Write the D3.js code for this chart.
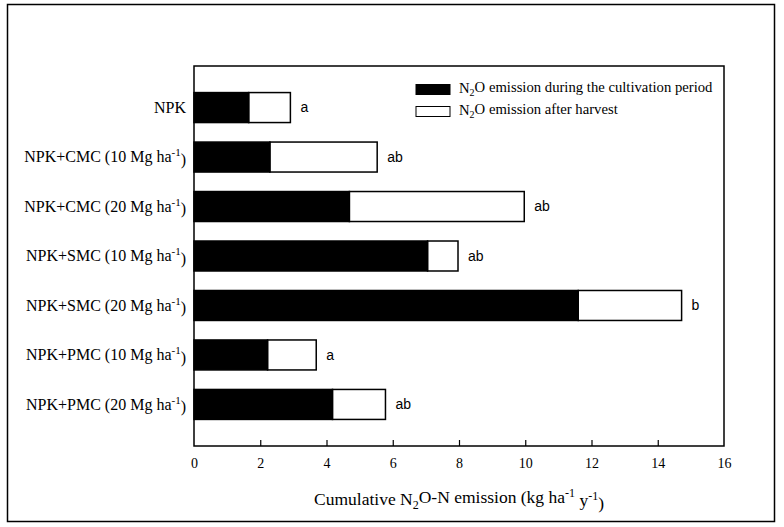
<!DOCTYPE html>
<html><head><meta charset="utf-8">
<script src="https://cdn.jsdelivr.net/npm/d3@7"></script>
<style>body{margin:0;background:#fff}svg{display:block}</style>
</head><body>
<svg id="c" width="784" height="527"></svg>
<script>
const categories = ["NPK","NPK+CMC (10 Mg ha","NPK+CMC (20 Mg ha","NPK+SMC (10 Mg ha","NPK+SMC (20 Mg ha","NPK+PMC (10 Mg ha","NPK+PMC (20 Mg ha"];
const cultivation = [1.65, 2.29, 4.69, 7.05, 11.60, 2.22, 4.18];
const total = [2.91, 5.53, 9.97, 7.97, 14.72, 3.69, 5.78];
const letters = ["a","ab","ab","ab","b","a","ab"];
const xTicks = [0,2,4,6,8,10,12,14,16];

const svg = d3.select("#c");
const serif = "'Liberation Serif','Times New Roman',serif";
const sans = "'Liberation Sans',Arial,sans-serif";
const L=194, R=724, T=66, B=446;
const x = d3.scaleLinear().domain([0,16]).range([L,R]);
const y = d3.scaleBand().domain(categories).range([T,B]).paddingInner(0.394).paddingOuter(0.537);

// outer frame
svg.append("rect").attr("x",7.5).attr("y",4.5).attr("width",767).attr("height",517)
  .attr("fill","none").attr("stroke","#000").attr("stroke-width",1.5);

// bars
const g = svg.append("g");
categories.forEach((c,i)=>{
  g.append("rect").attr("x",x(cultivation[i])).attr("y",y(c)).attr("width",x(total[i])-x(cultivation[i]))
   .attr("height",y.bandwidth()).attr("fill","#fff").attr("stroke","#000").attr("stroke-width",1.5);
  g.append("rect").attr("x",x(0)).attr("y",y(c)).attr("width",x(cultivation[i])-x(0))
   .attr("height",y.bandwidth()).attr("fill","#000").attr("stroke","#000").attr("stroke-width",1.5);
  g.append("text").attr("x",x(total[i])+10).attr("y",y(c)+y.bandwidth()/2).attr("dy","0.35em")
   .attr("font-family",sans).attr("font-size",14).text(letters[i]);
  const t = svg.append("text").attr("x",186).attr("y",y(c)+y.bandwidth()/2).attr("dy","0.32em")
   .attr("text-anchor","end").attr("font-family",serif).attr("font-size",16);
  t.append("tspan").text(c);
  if(i>0){
    t.append("tspan").attr("font-size",11).attr("dy","-0.55em").text("-1");
    t.append("tspan").attr("dy","0.55em").attr("font-size",16).text(")");
  }
});

// x axis (inward ticks)
const xa = d3.axisBottom(x).tickValues(xTicks).tickSize(-6).tickSizeOuter(0).tickPadding(12);
const ax = svg.append("g").attr("transform",`translate(0,${B})`).call(xa);
ax.select(".domain").remove();
ax.selectAll("line").attr("stroke","#000").attr("stroke-width",1.2);
ax.selectAll(".tick").filter(d=>d===0||d===16).select("line").remove();
ax.selectAll("text").attr("font-family",serif).attr("font-size",14).attr("fill","#000");

// plot frame
svg.append("rect").attr("x",L).attr("y",T).attr("width",R-L).attr("height",B-T)
  .attr("fill","none").attr("stroke","#000").attr("stroke-width",1.5);

// x title
const xt = svg.append("text").attr("x",(L+R)/2).attr("y",505).attr("text-anchor","middle")
  .attr("font-family",serif).attr("font-size",17.5);
xt.append("tspan").text("Cumulative N");
xt.append("tspan").attr("font-size",12).attr("dy","0.3em").text("2");
xt.append("tspan").attr("dy","-0.3em").text("O-N emission (kg ha");
xt.append("tspan").attr("font-size",12).attr("dy","-0.55em").text("-1");
xt.append("tspan").attr("dy","0.55em").text(" y");
xt.append("tspan").attr("font-size",12).attr("dy","-0.55em").text("-1");
xt.append("tspan").attr("dy","0.55em").text(")");

// legend
const legendItems = [{fill:"#000", label:" emission during the cultivation period"},{fill:"#fff", label:" emission after harvest"}];
legendItems.forEach((d,i)=>{
  const yy = 84.5 + i*22;
  svg.append("rect").attr("x",416).attr("y",yy).attr("width",34).attr("height",10)
    .attr("fill",d.fill).attr("stroke","#000").attr("stroke-width",1);
  const t = svg.append("text").attr("x",459).attr("y",yy+8.5).attr("font-family",serif).attr("font-size",14.7);
  t.append("tspan").text("N");
  t.append("tspan").attr("font-size",10).attr("dy","0.3em").text("2");
  t.append("tspan").attr("dy","-0.3em").text("O"+d.label);
});
</script>
</body></html>
